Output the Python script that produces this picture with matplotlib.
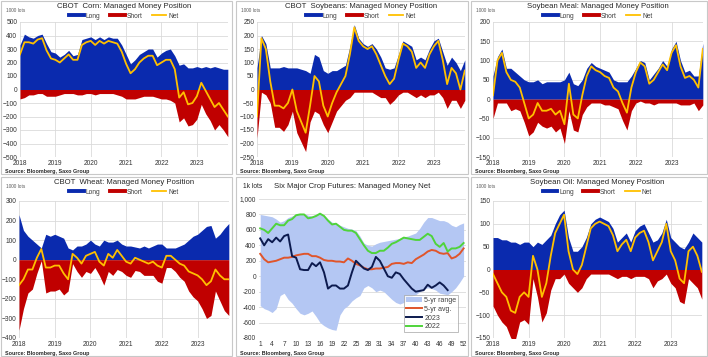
import numpy as np
import matplotlib
matplotlib.use('Agg')
import matplotlib.pyplot as plt
from matplotlib.patches import Rectangle
from matplotlib.lines import Line2D
from matplotlib.ticker import FuncFormatter

plt.rcParams['font.family'] = ['Liberation Sans', 'DejaVu Sans']

W, H = 708, 357

# time axis: one reading every 1/8 year, Jan 2018 - Nov 2023
dates = 2018 + np.arange(48) * 0.125
years = [2018, 2019, 2020, 2021, 2022, 2023]

# managed money positions, 1000 lots
corn_long = [330, 410, 390, 380, 400, 410, 340, 280, 270, 240, 260, 290,
             250, 260, 370, 380, 390, 370, 390, 370, 390, 380, 380, 330,
             260, 190, 220, 260, 280, 300, 300, 240, 270, 290, 300, 250,
             180, 190, 160, 160, 170, 160, 170, 160, 170, 160, 150, 150]
corn_short = [-70, -60, -40, -40, -30, -30, -50, -50, -50, -40, -30, -30,
              -30, -40, -40, -30, -30, -40, -30, -30, -30, -30, -40, -50,
              -70, -70, -70, -60, -50, -50, -50, -60, -70, -70, -80, -100,
              -240, -210, -270, -260, -220, -110, -180, -230, -300, -260, -300, -350]

soy_long = [80, 200, 170, 80, 80, 80, 85, 80, 80, 80, 75, 70,
            60, 130, 120, 70, 60, 70, 70, 80, 90, 160, 240, 190,
            170, 160, 170, 150, 120, 80, 75, 80, 130, 180, 170, 160,
            110, 120, 110, 150, 180, 190, 140, 90, 120, 100, 70, 110]
soy_short = [-180, -10, -20, -50, -140, -140, -155, -130, -80, -160, -195, -230,
             -120, -80, -90, -130, -160, -120, -80, -60, -40, -30, -10, -10,
             -10, -10, -10, -20, -30, -30, -55, -40, -20, -10, -10, -20,
             -30, -20, -30, -20, -20, -10, -30, -70, -40, -40, -70, -40]

meal_long = [60, 110, 130, 80, 80, 70, 60, 50, 45, 45, 50, 40,
             45, 45, 45, 45, 50, 70, 40, 35, 50, 80, 95, 85,
             80, 75, 70, 50, 45, 45, 45, 60, 80, 100, 95, 50,
             65, 80, 100, 85, 130, 150, 100, 70, 75, 60, 60, 145]
meal_short = [-50, -10, -10, -10, -30, -25, -30, -60, -95, -85, -60, -70,
              -75, -70, -85, -75, -115, -30, -80, -85, -40, -20, -10, -10,
              -10, -15, -15, -20, -25, -55, -80, -30, -10, -5, -10, -10,
              -15, -10, -10, -10, -10, -10, -15, -15, -15, -10, -30, -15]

wheat_long = [230, 150, 120, 100, 80, 60, 130, 120, 130, 120, 110, 60,
              50, 70, 70, 80, 100, 80, 70, 100, 90, 90, 100, 80,
              70, 70, 65, 60, 70, 60, 70, 80, 80, 60, 60, 60,
              70, 80, 100, 120, 130, 150, 170, 175, 110, 130, 160, 185]
wheat_short = [-360, -250, -170, -150, -70, -5, -170, -160, -160, -150, -180, -160,
               -20, -60, -90, -60, -70, -40, -80, -130, -60, -80, -50, -60,
               -80, -90, -55, -60, -80, -80, -80, -110, -120, -40, -40, -60,
               -90, -110, -160, -190, -210, -250, -300, -285, -160, -210, -260, -285]

oil_long = [70, 70, 65, 65, 60, 60, 55, 60, 60, 50, 60, 55,
            65, 75, 100, 120, 130, 70, 40, 40, 50, 70, 100, 110,
            115, 110, 105, 90, 60, 70, 80, 60, 85, 95, 100, 80,
            60, 65, 80, 110, 70, 60, 50, 45, 60, 80, 70, 60]
oil_short = [-80, -100, -115, -125, -150, -155, -115, -110, -120, -20, -60, -115,
             -95, -45, -20, -20, -10, -30, -40, -50, -40, -20, -10, -10,
             -10, -10, -10, -15, -20, -15, -15, -20, -15, -15, -15, -20,
             -40, -25, -20, -10, -30, -40, -70, -75, -20, -30, -40, -65]

# six major crops, managed money net by week, 1k lots
weeks = np.arange(1, 53)
range_hi = [800, 790, 780, 770, 740, 700, 720, 760, 780, 800, 810, 810,
            790, 780, 800, 820, 790, 740, 700, 690, 660, 640, 620, 610,
            590, 520, 430, 400, 390, 420, 440, 450, 460, 470, 480, 490,
            510, 520, 540, 560, 620, 700, 760, 760, 740, 720, 720, 700,
            660, 640, 670, 690]
range_lo = [-380, -420, -440, -470, -420, -250, -220, -300, -350, -420, -480, -500,
            -480, -450, -520, -600, -640, -670, -690, -700, -500, -420, -380, -320,
            -280, -250, -150, -120, -150, -200, -180, -200, -250, -300, -340, -360,
            -340, -300, -260, -240, -200, -170, -150, -160, -180, -220, -230, -240,
            -200, -150, -80, 0]
avg_5yr = [290, 220, 180, 190, 200, 220, 240, 240, 250, 270, 280, 290,
           290, 260, 260, 240, 210, 200, 200, 190, 190, 180, 230, 200,
           160, 140, 110, 90, 90, 100, 100, 110, 120, 160, 170, 170,
           160, 180, 170, 220, 250, 280, 320, 340, 330, 300, 290, 300,
           230, 250, 290, 360]
net_2022 = [620, 600, 560, 620, 680, 660, 660, 720, 740, 790, 800, 800,
            750, 760, 780, 810, 780, 720, 670, 680, 640, 600, 590, 590,
            560, 480, 400, 330, 300, 300, 330, 330, 370, 420, 440, 470,
            500, 490, 480, 470, 470, 510, 550, 520, 420, 380, 430, 320,
            360, 360, 380, 430]
net_2023 = [490, 400, 480, 440, 500, 450, 520, 540, 260, 240, 90, 80,
            80, 170, 130, 180, 50, -160, -120, -120, -160, -160, -120, 50,
            200, 150, 100, 80, 120, 250, 200, 100, 0, -20, 50, 30,
            -40, -100, -160, -200, -190, -180, -110, -150, -120, -80, -120, -180]

BLUE = '#0a2aae'
RED = '#c00000'
GOLD = '#ffc000'
GRID = '#dadada'
TXT = '#262626'
TICK = 4.8
SRC = 'Source: Bloomberg, Saxo Group'

fig = plt.figure(figsize=(W / 100, H / 100), dpi=100)


def rect(l, t, r, b):
    return [l / W, 1 - b / H, (r - l) / W, (b - t) / H]


def frame(l, t, r, b):
    fig.add_artist(Rectangle((l / W, 1 - b / H), (r - l) / W, (b - t) / H,
                             transform=fig.transFigure, fill=False,
                             edgecolor='#c8c8c8', lw=0.8))


def style(ax):
    for s in ax.spines.values():
        s.set_visible(False)
    ax.grid(True, color=GRID, lw=0.6)
    ax.set_axisbelow(True)
    ax.tick_params(length=0, labelsize=TICK, colors='#333333', pad=2)


def position_panel(box, axbox, title, long, short, ylim, ystep):
    l, t, r, b = box
    frame(l, t, r, b)
    ax = fig.add_axes(rect(*axbox))
    long = np.array(long)
    short = np.array(short)
    net = long + short
    ax.fill_between(dates, 0, long, color=BLUE, lw=0)
    ax.fill_between(dates, short, 0, color=RED, lw=0)
    ax.plot(dates, net, color=GOLD, lw=1.3)
    ax.set_xlim(2018, 2023.88)
    ax.set_ylim(*ylim)
    ax.set_xticks(years)
    ax.set_yticks(np.arange(ylim[0], ylim[1] + 1, ystep))
    style(ax)
    cx = (axbox[0] + axbox[2]) / 2
    fig.text(cx / W, 1 - (t + 5.5) / H, title, ha='center', va='center',
             fontsize=5.6, color=TXT)
    fig.text((l + 5) / W, 1 - (t + 9) / H, '1000 lots', ha='left',
             va='center', fontsize=3.4, color='#595959')
    handles = [Line2D([], [], color=BLUE, lw=2.8),
               Line2D([], [], color=RED, lw=2.8),
               Line2D([], [], color=GOLD, lw=1.3)]
    fig.legend(handles, ['Long', 'Short', 'Net'], ncol=3, frameon=False,
               loc='center', bbox_to_anchor=(cx / W, 1 - (t + 15) / H),
               fontsize=4.8, handlelength=2.2, columnspacing=1.4,
               handletextpad=0.3, labelcolor='#404040')
    fig.text((l + 4) / W, 1 - (b - 3) / H, SRC, ha='left', va='center',
             fontsize=3.9, fontweight='bold', color=TXT)
    return ax


position_panel((1, 1, 232, 174), (20, 22, 228, 157),
               'CBOT  Corn: Managed Money Position',
               corn_long, corn_short, (-500, 500), 100)
position_panel((236, 1, 468, 174), (257, 22, 465, 157),
               'CBOT  Soybeans: Managed Money Position',
               soy_long, soy_short, (-250, 250), 50)
position_panel((471, 1, 707, 174), (493, 22, 703, 157),
               'Soybean Meal: Managed Money Position',
               meal_long, meal_short, (-150, 200), 50)
position_panel((1, 177, 232, 356), (19, 201, 229, 338),
               'CBOT  Wheat: Managed Money Position',
               wheat_long, wheat_short, (-400, 300), 100)
position_panel((471, 177, 707, 356), (493, 201, 702, 338),
               'Soybean Oil: Managed Money Position',
               oil_long, oil_short, (-150, 150), 50)

# middle bottom: seasonal comparison
frame(236, 177, 468, 356)
ax = fig.add_axes(rect(259, 199, 466, 338))
ax.fill_between(weeks, range_lo, range_hi, color='#b4c7f3', lw=0, label='5-yr range')
ax.plot(weeks, avg_5yr, color='#e0552b', lw=1.4, label='5-yr avg.')
ax.plot(weeks[:len(net_2023)], net_2023, color='#0c1a4e', lw=1.4, label='2023')
ax.plot(weeks, net_2022, color='#4fd43a', lw=1.4, label='2022')
ax.set_xlim(0.7, 52.6)
ax.set_ylim(-800, 1000)
ax.set_xticks(np.arange(1, 53, 3))
ax.set_yticks(np.arange(-800, 1001, 200))
ax.yaxis.set_major_formatter(FuncFormatter(lambda v, p: f'{v:,.0f}'))
style(ax)
ax.grid(False, axis='x')
leg = ax.legend(loc='lower right', bbox_to_anchor=(0.97, 0.03), fontsize=5,
                frameon=True, fancybox=False, edgecolor='#a0a0a0',
                handlelength=2.3, handletextpad=0.3, borderpad=0.3,
                labelspacing=0.25, borderaxespad=0.2, labelcolor='#404040')
leg.get_frame().set_linewidth(0.6)
fig.text(352 / W, 1 - 186 / H, 'Six Major Crop Futures: Managed Money Net',
         ha='center', va='center', fontsize=5.6, color=TXT)
fig.text(243 / W, 1 - 187 / H, '1k lots', ha='left', va='center',
         fontsize=4.8, color=TXT)
fig.text(240 / W, 1 - 353 / H, SRC, ha='left', va='center',
         fontsize=3.9, fontweight='bold', color=TXT)

fig.savefig('out.png', dpi=100)
